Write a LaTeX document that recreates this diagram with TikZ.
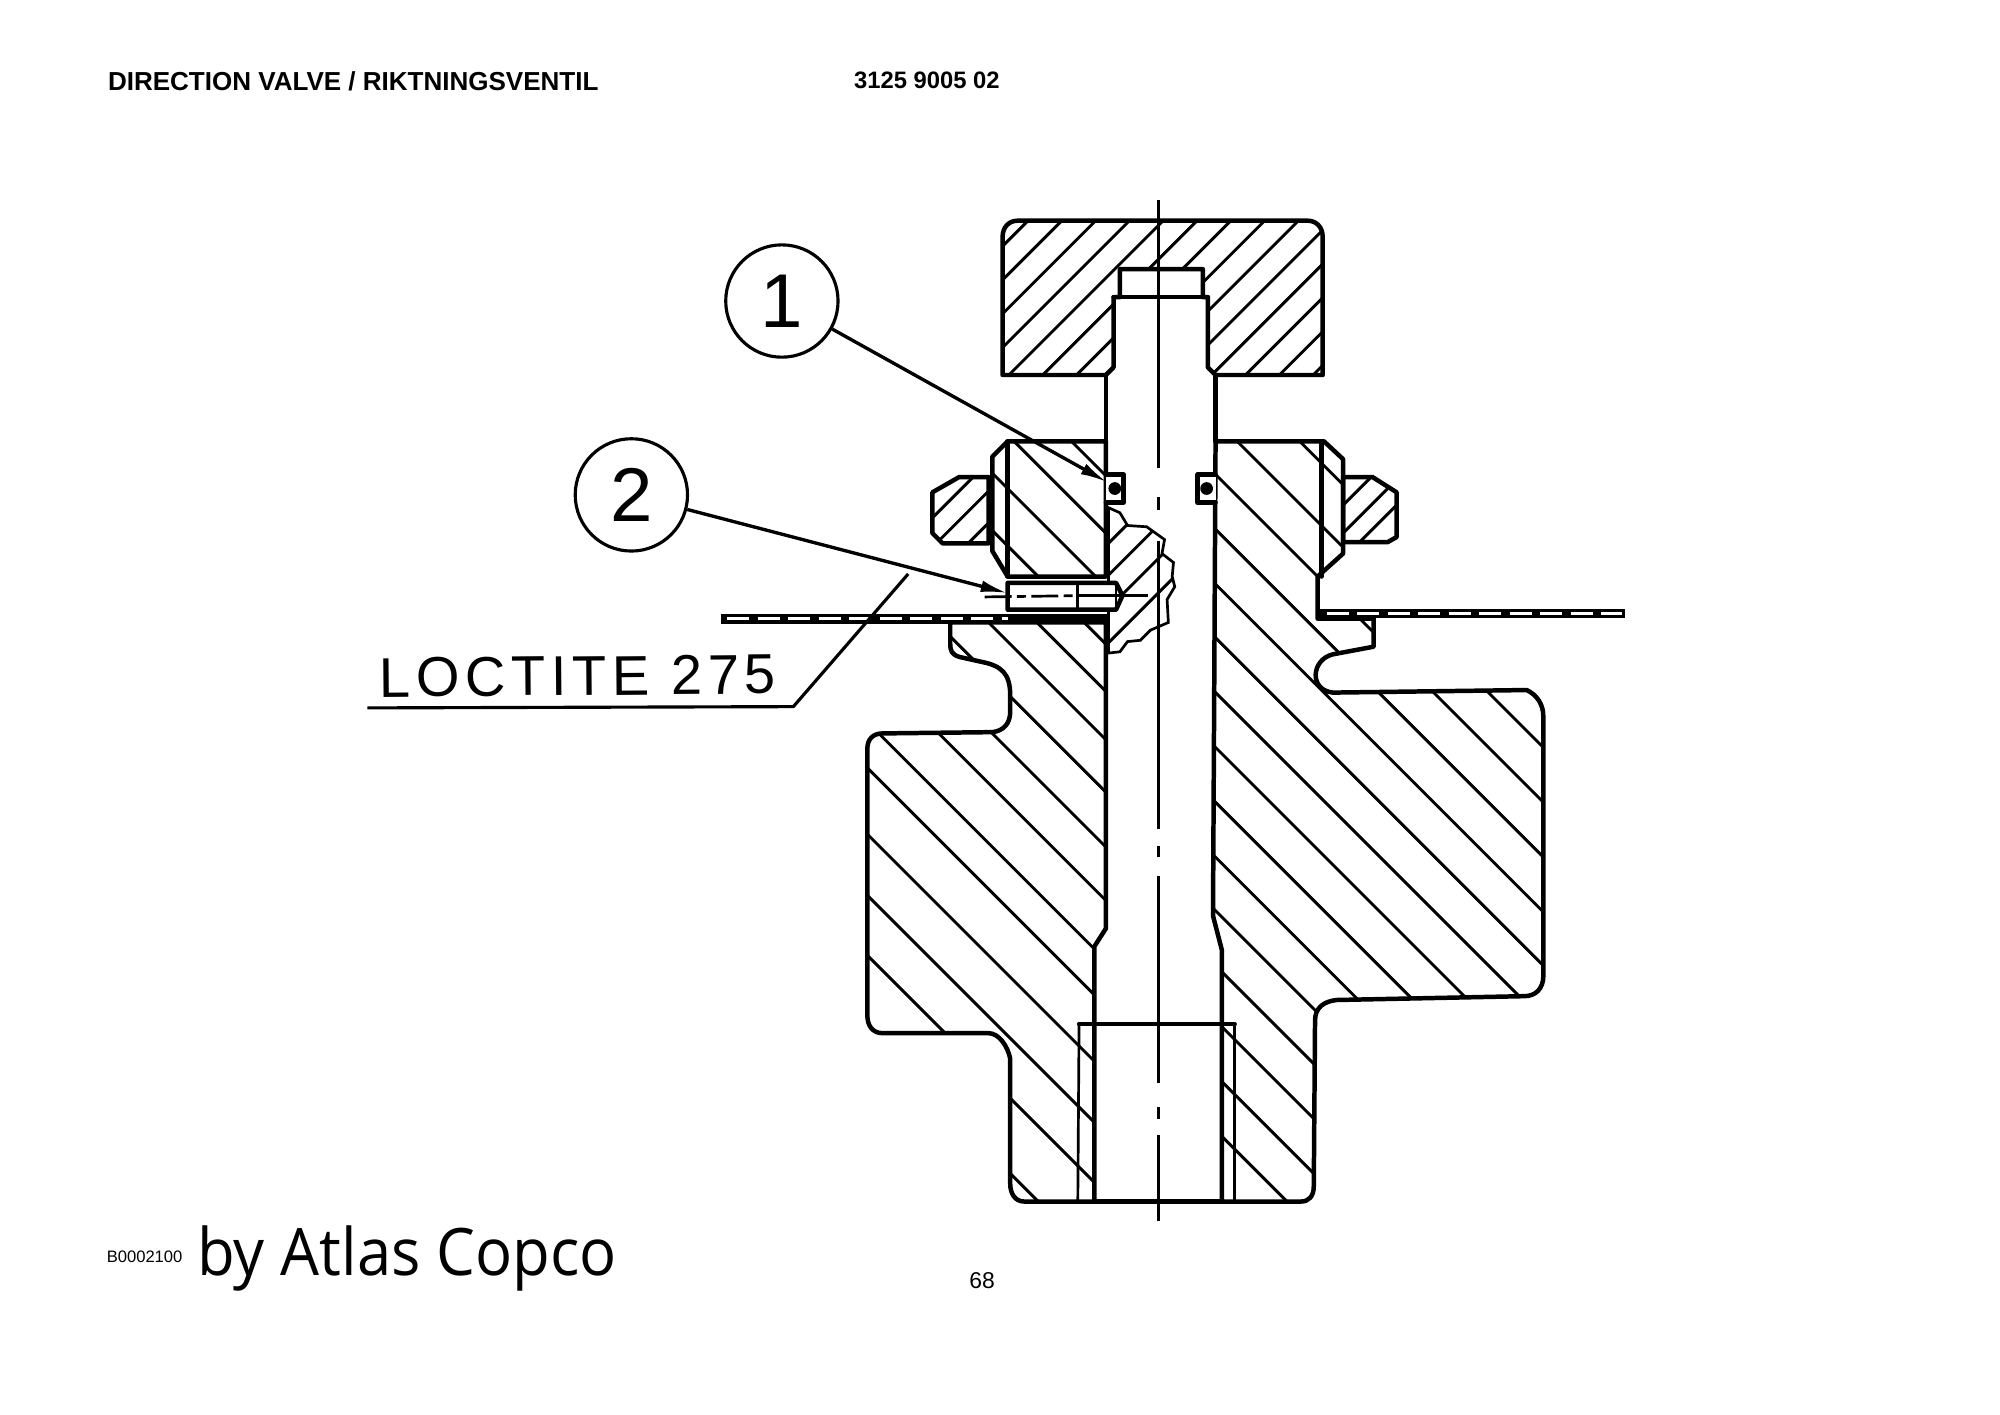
\documentclass[tikz,border=0pt]{standalone}
\usepackage{fontspec}
\setmainfont{Liberation Sans}
\newfontfamily\brandfont[FakeStretch=0.94]{Open Sans}
\newfontfamily\handfont[LetterSpace=10]{Liberation Sans}
\usetikzlibrary{arrows.meta,positioning}
\tikzset{
	outline/.style={line width=1pt,line join=round,line cap=round},
	hatch/.style={line width=0.65pt},
	thinline/.style={line width=0.6pt},
	axis/.style={line width=0.7pt},
	callout/.style={circle,draw,line width=0.7pt,minimum size=0.88cm,inner sep=0pt,font=\fontsize{17}{18}\selectfont},
	leader/.style={line width=0.75pt,-{Latex[length=6pt,width=2.6pt]}},
	plateline/.style={line width=2.2pt},
	platedash/.style={line width=0.7pt,white,dash pattern=on 5pt off 1.8pt},
}
\def\knobshape{(798,173) -- (1025,173) .. controls (1032,173) and (1037,178) .. (1037,186) -- (1037,294) -- (953,294) -- (947,288) -- (947,233) -- (943,233) -- (943,211) -- (878,211) -- (878,233) -- (873,233) -- (873,288) -- (867,294) -- (786,294) -- (786,186) .. controls (786,178) and (791,173) .. (798,173) -- cycle}
\def\leftnut{(790,346) -- (867,346) -- (867,452) -- (790,452) -- (778,432) -- (778,358) -- cycle}
\def\leftbody{(745,488) -- (867,488) -- (867,728) -- (858,742) -- (858,942) -- (803,942) .. controls (796,942) and (792,936) .. (792,928) -- (792,830) .. controls (790,820) and (783,810) .. (775,810) -- (692,810) .. controls (684,810) and (680,804) .. (680,796) -- (680,587) .. controls (680,580) and (684,575) .. (692,575) -- (778,574) .. controls (787,573) and (792,567) .. (792,558) -- (792,545) .. controls (792,528) and (785,522) .. (770,519) -- (752,515) .. controls (746,513) and (745,510) .. (745,505) -- cycle}
\def\rightbody{(953,346) -- (1038,346) -- (1053,360) -- (1053,434) -- (1033,452) -- (1033,485) -- (1077,485) -- (1077,507) -- (1045,513) .. controls (1028,517) and (1026,541) .. (1045,543) -- (1197,541) .. controls (1205,545) and (1210,552) .. (1210,562) -- (1210,765) .. controls (1210,775) and (1204,781) .. (1195,781) -- (1048,784) .. controls (1038,785) and (1031,790) .. (1031,800) -- (1030,930) .. controls (1030,938) and (1026,942) .. (1020,942) -- (958,942) -- (958,745) -- (951,718) -- cycle}
\def\leftwasher{(775,374) -- (752,374) -- (731,386) -- (731,418) -- (739,426) -- (775,426) -- cycle}
\def\rightwasher{(1053,374) -- (1076,374) -- (1095,386) -- (1095,421) -- (1088,425) -- (1053,425) -- cycle}
\def\breakout{(869,398) -- (878,402) -- (884,412) -- (899,413) -- (913,423) -- (911,434) -- (920,441) -- (919,452) -- (921,460) -- (915,470) -- (916,488) -- (902,494) -- (894,502) -- (884,503) -- (878,511) -- (869,512) -- cycle}
\begin{document}
\begin{tikzpicture}[x=0.01cm,y=-0.01cm]
	\useasboundingbox (0,0) rectangle (1568,1109);
	\node[anchor=west,font=\bfseries\fontsize{5.8}{6}\selectfont,inner sep=0pt] (title) at (84,64) {DIRECTION VALVE / RIKTNINGSVENTIL};
	\node[anchor=west,font=\bfseries\fontsize{5.3}{6}\selectfont,inner sep=0pt] (partno) at (669,63) {3125 9005 02};
	\node[anchor=west,font=\fontsize{3.7}{4}\selectfont,inner sep=0pt] (drawno) at (83,985) {B0002100};
	\node[anchor=west,font=\brandfont\fontsize{14.6}{16}\selectfont,inner sep=0pt] (brand) at (154,987) {by Atlas Copco};
	\node[font=\fontsize{5.1}{6}\selectfont,inner sep=0pt] (page) at (770,1004) {68};

	\begin{scope}
		\clip \knobshape;
		\foreach \s in {979,1005.5,...,1325} \draw[hatch] (600,\s-600) -- (1200,\s-1200);
	\end{scope}
	\begin{scope}
		\clip \leftnut \leftbody;
		\foreach \c in {-494,-449,-407,-362,-325,-287,-246,-203,-161,-114,-78,-26,22,69,128} \draw[hatch] (600,600+\c) -- (1300,1300+\c);
	\end{scope}
	\begin{scope}
		\clip \rightbody;
		\foreach \c in {-673,-624,-581,-538,-495,-453,-410,-367,-324,-281,-239,-196,-153,-110,-67} \draw[hatch] (800,800+\c) -- (1500,1500+\c);
	\end{scope}
	\begin{scope}
		\clip \leftwasher;
		\foreach \s in {1137,1160,1185} \draw[hatch] (600,\s-600) -- (900,\s-900);
	\end{scope}
	\begin{scope}
		\clip \rightwasher;
		\foreach \s in {1449,1471,1491} \draw[hatch] (900,\s-900) -- (1200,\s-1200);
	\end{scope}
	\begin{scope}
		\clip \breakout;
		\foreach \s in {1295,1320,1346,1373} \draw[hatch] (800,\s-800) -- (1000,\s-1000);
	\end{scope}

	\draw[outline] \knobshape;
	\draw[outline] \leftnut;
	\draw[outline] \leftbody;
	\draw[outline] \rightbody;
	\draw[outline] \leftwasher;
	\draw[outline] \rightwasher;
	\draw[thinline] \breakout;
	\draw[outline] (790,346) -- (790,452);
	\draw[outline] (1036,346) -- (1036,452);
	\draw[outline] (867,294) -- (867,346);
	\draw[outline] (953,294) -- (953,346);
	\draw[outline] (873,233) -- (947,233);
	\draw[outline] (858,942) -- (958,942);
	\draw[outline] (846,803) -- (968,803);
	\draw[thinline] (846,803) -- (845,942);
	\draw[thinline] (968,803) -- (968,942);

	\draw[outline,fill=white] (867,372) -- (881,372) -- (881,394) -- (867,394);
	\draw[outline,fill=white] (953,372) -- (939,372) -- (939,394) -- (953,394);
	\fill (874,383) circle (5);
	\fill (946,383) circle (5);

	\draw[axis] (908,157) -- (908,367);
	\draw[axis] (908,390) -- (908,400);
	\draw[axis] (908,424) -- (908,650);
	\draw[axis] (908,663) -- (908,672);
	\draw[axis] (908,687) -- (908,849);
	\draw[axis] (908,868) -- (908,877);
	\draw[axis] (908,890) -- (908,957);

	\draw[outline,fill=white] (790,457) -- (875,457) -- (880,467) -- (875,478) -- (790,478) -- cycle;
	\draw[thinline] (875,457) -- (875,478);
	\draw[thinline] (845,457) -- (845,478);
	\draw[thinline] (845,467) -- (900,467);
	\draw[thinline,dash pattern=on 6pt off 1.2pt on 2pt off 1.2pt] (772,468) -- (845,467);

	\draw[plateline] (565,485) -- (870,485);
	\draw[platedash] (570,485) -- (790,485);
	\draw[plateline] (1033,481) -- (1274,481);
	\draw[platedash] (1040,481) -- (1272,481);

	\node[callout] (one) at (613,236) {1};
	\node[callout] (two) at (495,388) {2};
	\coordinate (oring) at (868,378);
	\coordinate (pin) at (790,465);
	\draw[leader] (one) -- (oring);
	\draw[leader] (two) -- (pin);

	\node[font=\handfont\fontsize{12.5}{13}\selectfont,inner sep=0pt,rotate=0.5] (loctite) at (453,530) {LOCTITE 275};
	\coordinate (rulestart) at (288,555);
	\coordinate (rulebend) at (622,554);
	\coordinate (ruletip) at (712,450);
	\draw[axis] (rulestart) -- (rulebend) -- (ruletip);
\end{tikzpicture}
\end{document}
